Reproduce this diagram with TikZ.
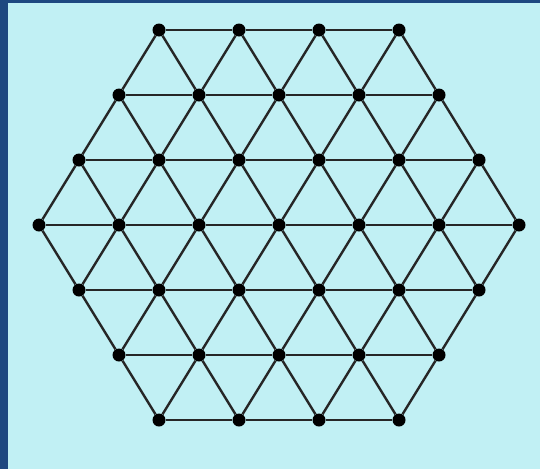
\documentclass[tikz,border=0pt]{standalone}
\usepackage{tikz}
\definecolor{latbg}{RGB}{193,240,244}
\definecolor{latframe}{RGB}{30,72,128}
\begin{document}
\begin{tikzpicture}[x=1pt, y=-1pt,
    site/.style={circle, fill=black, inner sep=0pt, minimum size=13pt},
    bond/.style={line width=2.4pt, color=black!85}
  ]
  % background and frame
  \fill[latframe] (0,0) rectangle (540,469);
  \fill[latbg] (8,3) rectangle (540,469);
  \useasboundingbox (0,0) rectangle (540,469);
  % lattice sites, row by row
  \foreach \j in {0,...,6} {
    \pgfmathtruncatemacro{\n}{7-abs(\j-3)}
    \foreach \k in {1,...,\n} {
      \node[site] (p-\j-\k) at ({279+(\k-(\n+1)/2)*80}, {30+\j*65}) {};
    }
  }
  % horizontal bonds
  \foreach \j in {0,...,6} {
    \pgfmathtruncatemacro{\m}{6-abs(\j-3)}
    \foreach \k in {1,...,\m} {
      \pgfmathtruncatemacro{\kk}{\k+1}
      \draw[bond] (p-\j-\k) -- (p-\j-\kk);
    }
  }
  % slanted bonds, upper half
  \foreach \j in {0,1,2} {
    \pgfmathtruncatemacro{\n}{4+\j}
    \pgfmathtruncatemacro{\jj}{\j+1}
    \foreach \k in {1,...,\n} {
      \pgfmathtruncatemacro{\kk}{\k+1}
      \draw[bond] (p-\j-\k) -- (p-\jj-\k);
      \draw[bond] (p-\j-\k) -- (p-\jj-\kk);
    }
  }
  % slanted bonds, lower half
  \foreach \j in {3,4,5} {
    \pgfmathtruncatemacro{\jj}{\j+1}
    \pgfmathtruncatemacro{\n}{9-\j}
    \foreach \k in {1,...,\n} {
      \pgfmathtruncatemacro{\kk}{\k+1}
      \draw[bond] (p-\jj-\k) -- (p-\j-\k);
      \draw[bond] (p-\jj-\k) -- (p-\j-\kk);
    }
  }
\end{tikzpicture}
\end{document}
